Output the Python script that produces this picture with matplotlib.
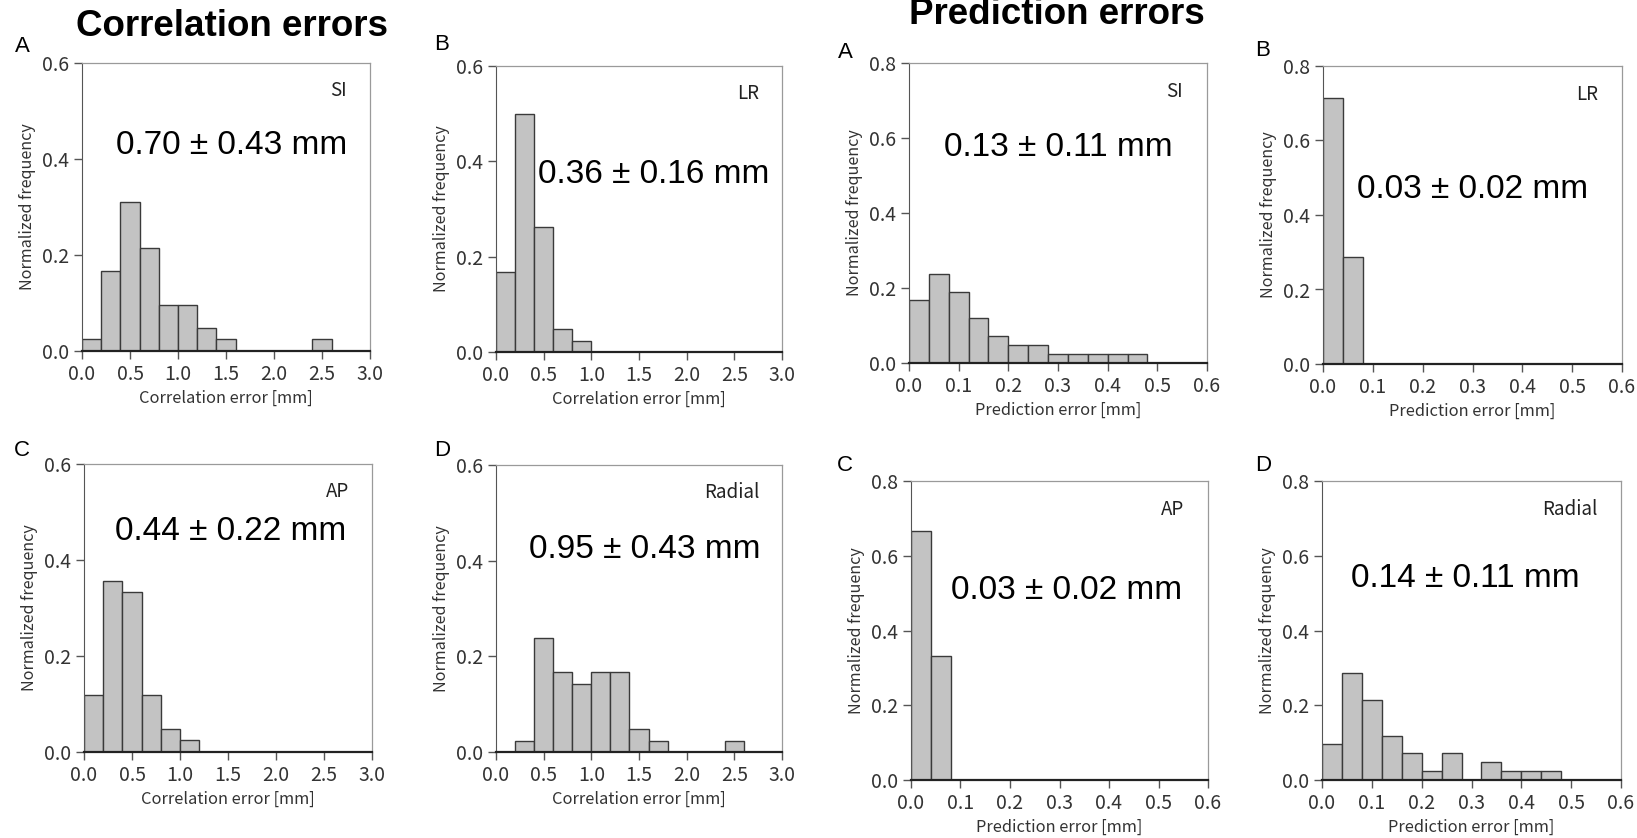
import matplotlib
matplotlib.use('Agg')
import matplotlib.pyplot as plt

W, H = 1637, 838

# Correlation errors (bin width 0.2 mm, starting at 0)
corr_bin = 0.2
corr_si = [0.024, 0.167, 0.310, 0.214, 0.095, 0.095, 0.048, 0.024, 0, 0, 0, 0, 0.024]
corr_lr = [0.167, 0.500, 0.262, 0.048, 0.024]
corr_ap = [0.119, 0.357, 0.333, 0.119, 0.048, 0.024]
corr_rad = [0, 0.024, 0.238, 0.167, 0.143, 0.167, 0.167, 0.048, 0.024, 0, 0, 0, 0.024]

# Prediction errors (bin width 0.04 mm, starting at 0)
pred_bin = 0.04
pred_si = [0.167, 0.238, 0.190, 0.119, 0.071, 0.048, 0.048, 0.024, 0.024, 0.024, 0.024, 0.024]
pred_lr = [0.714, 0.286]
pred_ap = [0.667, 0.333]
pred_rad = [0.095, 0.286, 0.214, 0.119, 0.071, 0.024, 0.071, 0, 0.048, 0.024, 0.024, 0.024]

corr_text = ['0.70 \u00b1 0.43 mm', '0.36 \u00b1 0.16 mm', '0.44 \u00b1 0.22 mm', '0.95 \u00b1 0.43 mm']
pred_text = ['0.13 \u00b1 0.11 mm', '0.03 \u00b1 0.02 mm', '0.03 \u00b1 0.02 mm', '0.14 \u00b1 0.11 mm']
directions = ['SI', 'LR', 'AP', 'Radial']
letters = ['A', 'B', 'C', 'D']

SMALL = ['Noto Sans CJK JP', 'DejaVu Sans']
BIG = ['Liberation Sans', 'DejaVu Sans']
GREY = '#333333'

# panels: (data, bin, xmax, ymax, xlabel, text, text pos, pixel box l,t,r,b, letter pos)
panels = [
    (corr_si, corr_bin, 3.0, 0.6, 'Correlation error [mm]', corr_text[0], (0.52, 0.715), (82, 63, 370, 351), (22, 47)),
    (corr_lr, corr_bin, 3.0, 0.6, 'Correlation error [mm]', corr_text[1], (0.55, 0.62), (496, 66, 782, 352), (442, 45)),
    (corr_ap, corr_bin, 3.0, 0.6, 'Correlation error [mm]', corr_text[2], (0.51, 0.764), (84, 464, 372, 752), (22, 450)),
    (corr_rad, corr_bin, 3.0, 0.6, 'Correlation error [mm]', corr_text[3], (0.52, 0.704), (496, 465, 782, 752), (442, 450)),
    (pred_si, pred_bin, 0.6, 0.8, 'Prediction error [mm]', pred_text[0], (0.50, 0.72), (909, 63, 1207, 363), (845, 52)),
    (pred_lr, pred_bin, 0.6, 0.8, 'Prediction error [mm]', pred_text[1], (0.50, 0.584), (1323, 66, 1622, 364), (1263, 50)),
    (pred_ap, pred_bin, 0.6, 0.8, 'Prediction error [mm]', pred_text[2], (0.525, 0.635), (911, 481, 1208, 780), (845, 465)),
    (pred_rad, pred_bin, 0.6, 0.8, 'Prediction error [mm]', pred_text[3], (0.48, 0.675), (1322, 481, 1621, 780), (1263, 465)),
]

fig = plt.figure(figsize=(W / 100, H / 100), dpi=100)
fig.patch.set_facecolor('white')

for i, (vals, bw, xmax, ymax, xlab, txt, tpos, box, lpos) in enumerate(panels):
    l, t, r, b = box
    ax = fig.add_axes([l / W, 1 - b / H, (r - l) / W, (b - t) / H])
    lefts = [k * bw for k in range(len(vals))]
    ax.bar(lefts, vals, width=bw, align='edge', color='#c3c3c3',
           edgecolor='#3a3a3a', linewidth=1.0, zorder=2)
    ax.set_xlim(0, xmax)
    ax.set_ylim(0, ymax)
    if xmax == 3.0:
        ax.set_xticks([0, 0.5, 1.0, 1.5, 2.0, 2.5, 3.0])
        ax.set_yticks([0, 0.2, 0.4, 0.6])
    else:
        ax.set_xticks([0, 0.1, 0.2, 0.3, 0.4, 0.5, 0.6])
        ax.set_yticks([0, 0.2, 0.4, 0.6, 0.8])
    ax.xaxis.set_major_formatter(plt.FormatStrFormatter('%.1f'))
    ax.yaxis.set_major_formatter(plt.FormatStrFormatter('%.1f'))
    ax.tick_params(direction='out', length=6, width=1, colors='#555555',
                   labelcolor=GREY, labelsize=14)
    for lab in ax.get_xticklabels() + ax.get_yticklabels():
        lab.set_family(SMALL)
    for s in ['top', 'right']:
        ax.spines[s].set_color('#9a9a9a')
        ax.spines[s].set_linewidth(0.9)
    ax.spines['left'].set_color('#555555')
    ax.spines['bottom'].set_color('#222222')
    ax.spines['bottom'].set_linewidth(1.6)
    ax.set_xlabel(xlab, family=SMALL, fontsize=11.8, color=GREY, labelpad=3)
    ax.set_ylabel('Normalized frequency', family=SMALL, fontsize=11.6, color=GREY, labelpad=4)
    ax.text(0.92, 0.905, directions[i % 4], transform=ax.transAxes, ha='right', va='center',
            family=SMALL, fontsize=13.5, color='#222222')
    ax.text(tpos[0], tpos[1], txt, transform=ax.transAxes, ha='center', va='center',
            family=BIG, fontsize=24, color='black')
    fig.text(lpos[0] / W, 1 - lpos[1] / H, letters[i % 4], ha='center', va='center',
             family=BIG, fontsize=16, color='black')

fig.text(232 / W, 1 - 27 / H, 'Correlation errors', ha='center', va='center',
         family=BIG, fontsize=26.5, fontweight='bold')
fig.text(1057 / W, 1 - 15 / H, 'Prediction errors', ha='center', va='center',
         family=BIG, fontsize=26.5, fontweight='bold')

fig.savefig('out.png', dpi=100)
